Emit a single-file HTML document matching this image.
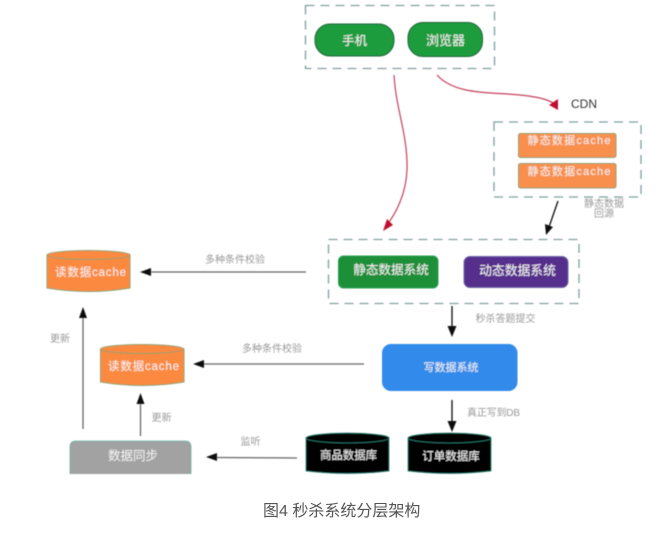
<!DOCTYPE html>
<html><head><meta charset="utf-8">
<style>
html,body{margin:0;padding:0;background:#fff;width:667px;height:543px;overflow:hidden}
svg{display:block;position:absolute;left:0;top:0}
text{font-family:"Liberation Sans","Noto Sans CJK SC",sans-serif}
.d{filter:url(#b)}
.box{fill:none;stroke:#7f9f9f;stroke-width:1.3;stroke-dasharray:9 6}
.l{fill:#999;font-size:10px;text-anchor:middle}
.w{fill:#f4f4f4;text-anchor:middle}
.red{fill:none;stroke:#c4415f;stroke-width:1.2}
.blk{stroke:#111;stroke-width:1.3}
.gr{stroke:#666;stroke-width:1.3}
</style></head><body>
<svg width="667" height="543" viewBox="0 0 667 543" xmlns="http://www.w3.org/2000/svg">
<defs><filter id="b" x="-2%" y="-2%" width="104%" height="104%"><feGaussianBlur stdDeviation="0.45"/></filter></defs>
<g class="d">
<rect class="box" x="305.5" y="5.5" width="189" height="63"/>
<rect x="315" y="24" width="79" height="32" rx="15" fill="#1c9c3e" stroke="#23603a" stroke-width="1"/>
<text class="w" x="354.500" y="45" font-size="12.500">手机</text>
<rect x="408" y="22.500" width="74.500" height="34" rx="15" fill="#1c9c3e" stroke="#23603a" stroke-width="1"/>
<text class="w" x="445.500" y="45" font-size="13">浏览器</text>

<path class="red" d="M394 75C396 110 408 135 407 170C406 195 395 215 386 226"/>
<polygon points="383,231 393,225 387,219" fill="#c01030"/>
<path class="red" d="M437 75C455 95 490 92 520 95C540 97 550 100 556 105"/>
<polygon points="558,110 558,99 549,105" fill="#c01030"/>
<text x="571" y="108" font-size="12" fill="#333">CDN</text>

<rect class="box" x="494" y="122" width="147" height="75"/>
<rect x="518.500" y="133.500" width="97.500" height="24" rx="2" fill="#f98f4d" stroke="#8f9f6f" stroke-width="1"/>
<text class="w" x="569" y="144" font-size="11" textLength="83" lengthAdjust="spacing">静态数据cache</text>
<rect x="518.500" y="163.500" width="97.500" height="24.500" rx="2" fill="#f98f4d" stroke="#8f9f6f" stroke-width="1"/>
<text class="w" x="569" y="175" font-size="11" textLength="83" lengthAdjust="spacing">静态数据cache</text>
<text class="l" x="604" y="207">静态数据</text>
<text class="l" x="604" y="217">回源</text>
<line class="blk" x1="558" y1="201" x2="549" y2="227"/>
<polygon points="546,235 545,224 553,227" fill="#111"/>

<rect class="box" x="328.500" y="239.500" width="250.500" height="64"/>
<rect x="338.500" y="256" width="99.500" height="32" rx="5" fill="#1f8f38" stroke="#2f9f4f" stroke-width="1"/>
<text class="w" x="391" y="274" font-size="12.600">静态数据系统</text>
<rect x="464" y="256.500" width="104" height="31" rx="6" fill="#562d8c" stroke="#6d64a8" stroke-width="1"/>
<text class="w" x="517.500" y="275" font-size="12.800">动态数据系统</text>

<line class="blk" x1="452" y1="306" x2="452" y2="328"/>
<polygon points="452,337 447.500,326 456.500,326" fill="#111"/>
<text class="l" x="505.500" y="322">秒杀答题提交</text>

<rect x="382" y="344" width="135.500" height="47" rx="9" fill="#338bea"/>
<text class="w" x="451" y="371" font-size="11">写数据系统</text>

<line class="blk" x1="452" y1="400" x2="452" y2="423"/>
<polygon points="452,432 447.500,421 456.500,421" fill="#111"/>
<text class="l" x="493.500" y="416" textLength="53" lengthAdjust="spacing">真正写到DB</text>

<!-- black DBs -->
<path d="M306 438V471Q347.500 476 389 471V438Z" fill="#000" stroke="#2a7f6f" stroke-width="0.800"/>
<ellipse cx="347.500" cy="438" rx="41.500" ry="5" fill="#000" stroke="#2a7f6f" stroke-width="0.800"/>
<text class="w" x="348.500" y="459" font-size="11.400">商品数据库</text>
<path d="M408 438V471Q449.500 476 491 471V438Z" fill="#000" stroke="#2a7f6f" stroke-width="0.800"/>
<ellipse cx="449.500" cy="438" rx="41.500" ry="5" fill="#000" stroke="#2a7f6f" stroke-width="0.800"/>
<text class="w" x="451" y="460" font-size="11.500">订单数据库</text>

<!-- read caches -->
<path d="M47 255V288Q88.500 295 130 288V255Z" fill="#fb8a40" stroke="#8f9f6f" stroke-width="1"/>
<ellipse cx="88.500" cy="255" rx="41.500" ry="4.500" fill="#fb8a40" stroke="#8f9f6f" stroke-width="1"/>
<text class="w" x="90.500" y="276" font-size="11.500" textLength="71" lengthAdjust="spacing">读数据cache</text>
<path d="M100.500 349V382Q142 389 184 382V349Z" fill="#fb8a40" stroke="#8f9f6f" stroke-width="1"/>
<ellipse cx="142" cy="349" rx="41.500" ry="4.500" fill="#fb8a40" stroke="#8f9f6f" stroke-width="1"/>
<text class="w" x="143.500" y="370" font-size="11.500" textLength="71" lengthAdjust="spacing">读数据cache</text>

<line class="gr" x1="306" y1="272" x2="150" y2="272"/>
<polygon points="140,272 151,268 151,276" fill="#111"/>
<text class="l" x="235" y="263">多种条件校验</text>

<line class="gr" x1="364" y1="364" x2="202" y2="364"/>
<polygon points="193,364 204,360 204,368" fill="#111"/>
<text class="l" x="272" y="352">多种条件校验</text>

<line class="gr" x1="83" y1="429" x2="83" y2="317"/>
<polygon points="83,307 79,318 87,318" fill="#111"/>
<text class="l" x="60" y="342">更新</text>

<line class="gr" x1="140.500" y1="436" x2="140.500" y2="403"/>
<polygon points="140.500,393 136.500,404 144.500,404" fill="#111"/>
<text class="l" x="161.500" y="421">更新</text>

<path d="M70 474V447Q70 441 76 441H185Q191 441 191 447V474Z" fill="#a2a2a2"/>
<path d="M70 474V447Q70 441 76 441H185Q191 441 191 447V474" fill="none" stroke="#62b5a5" stroke-width="0.800"/>
<text class="w" x="133" y="460" font-size="12.500">数据同步</text>

<line class="gr" x1="297" y1="458" x2="216" y2="457.500"/>
<polygon points="206,457 217,453 217,461" fill="#111"/>
<text class="l" x="250.500" y="445">监听</text>
</g>
<text x="263" y="516" font-size="16" fill="#555">图4 秒杀系统分层架构</text>
</svg>
</body></html>
